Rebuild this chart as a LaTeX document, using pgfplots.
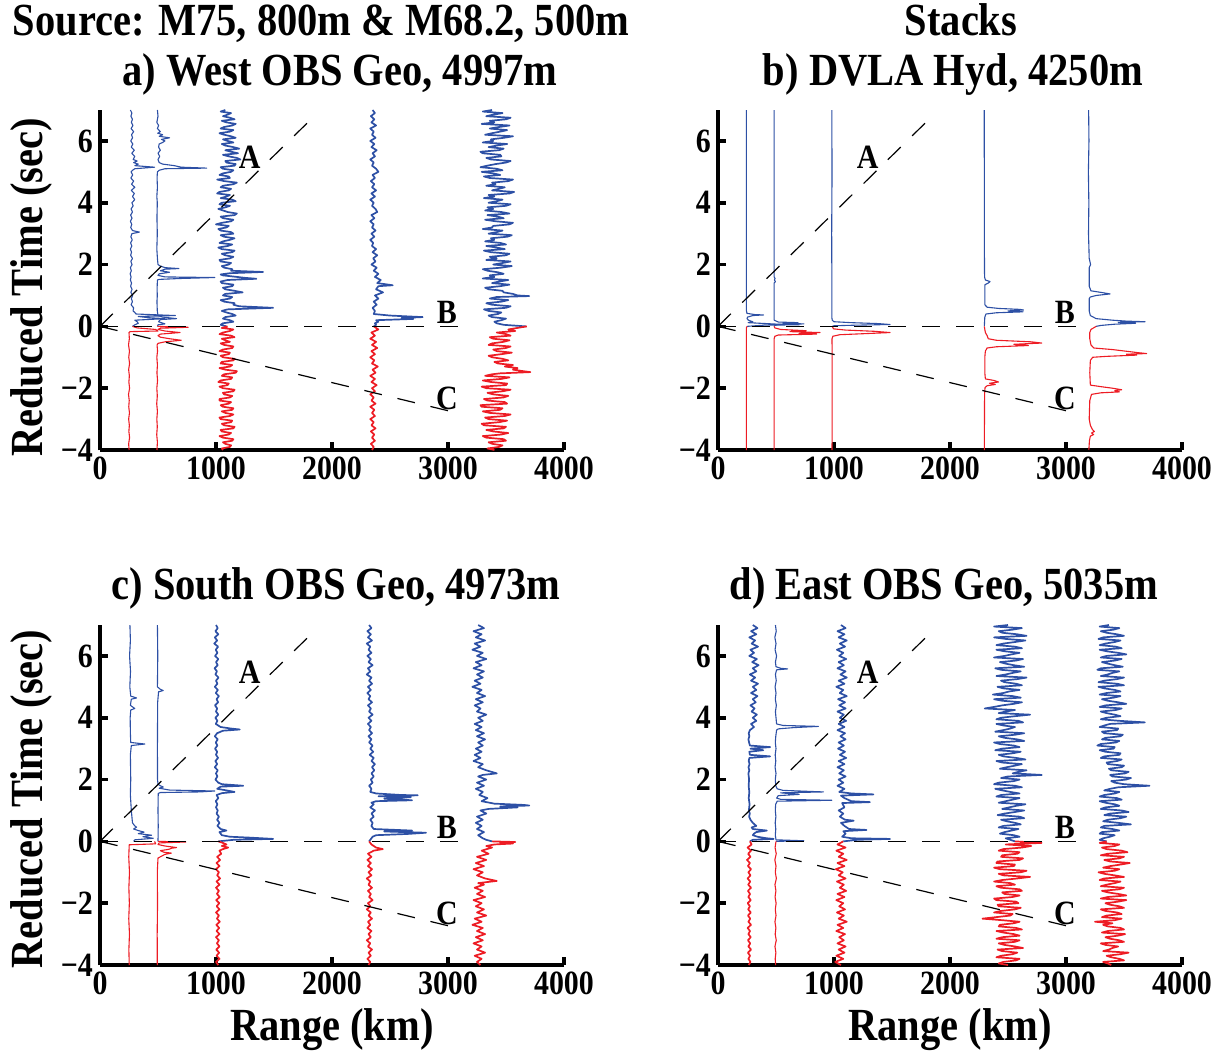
\documentclass[border=0pt]{standalone}
\usepackage{fontspec}
\setmainfont{Liberation Serif}[FakeStretch=0.88]
\usepackage{pgfplots}
\pgfplotsset{compat=1.18}
\definecolor{tb}{RGB}{45,80,165}
\definecolor{tr}{RGB}{237,28,36}
\newcommand\bigf{\fontsize{23}{25}\selectfont\bfseries}
\newcommand\tickf{\fontsize{17}{18}\selectfont\bfseries}
\newcommand\abcf{\fontsize{17}{18}\selectfont\bfseries}
\pgfplotsset{
  panel/.style={scale only axis, width=232pt, height=170pt,
    xmin=0, xmax=4000, ymin=-4, ymax=7,
    axis lines=left, axis line style={-, line width=2.3pt, black},
    xtick={0,1000,2000,3000,4000}, xticklabels={0,1000,2000,3000,4000},
    ytick={-4,-2,0,2,4,6}, yticklabels={−4,−2,0,2,4,6},
    tick align=inside, major tick length=4.2pt, tick style={line width=1.8pt, black},
    ticklabel style={font=\tickf},
    clip=false, anchor=south west},
  B/.style={color=tb, line width=0.55pt, line join=round},
  R/.style={color=tr, line width=0.55pt, line join=round},
  BN/.style={color=tb, line width=0.85pt, line join=round},
  RN/.style={color=tr, line width=0.85pt, line join=round},
  D/.style={black, line width=0.6pt, dash pattern=on 9pt off 8pt},
}
\newcommand\guides{%
  \addplot[D] coordinates {(0,0) (1860,6.85)};
  \addplot[D] coordinates {(0,0) (3180,0)};
  \addplot[D] coordinates {(0,0) (3100,-2.82)};
  \node[font=\abcf] at (axis cs:1291,5.46) {A};
  \node[font=\abcf] at (axis cs:2990,0.45) {B};
  \node[font=\abcf] at (axis cs:2990,-2.34) {C};
}
\begin{document}
\begin{tikzpicture}
\useasboundingbox (0,0) rectangle (612.5pt,-526.5pt);
% ---------------- a) ----------------
\begin{axis}[panel, at={(50pt,-225pt)}]
\addplot[B] coordinates {(262,7)(275,6.9)(266,6.8)(280,6.7)(270,6.6)(284,6.5)(268,6.4)(290,6.3)(272,6.2)(281,6.1)(265,6)(283,5.9)(270,5.8)(296,5.7)(274,5.6)(300,5.5)(286,5.4)(320,5.35)(290,5.3)(330,5.25)(300,5.2)(470,5.15)(300,5.1)(280,5.05)(268,5)(282,4.9)(266,4.8)(290,4.7)(272,4.6)(300,4.5)(270,4.4)(296,4.3)(280,4.2)(300,4.1)(275,4)(286,3.9)(268,3.8)(280,3.7)(264,3.6)(276,3.5)(262,3.4)(274,3.3)(265,3.2)(280,3.1)(340,3.05)(275,3)(266,2.9)(278,2.8)(264,2.7)(274,2.6)(262,2.5)(272,2.4)(264,2.3)(280,2.2)(266,2.1)(276,2)(262,1.9)(270,1.8)(260,1.7)(268,1.6)(262,1.5)(272,1.4)(264,1.3)(276,1.2)(266,1.1)(282,1)(270,0.9)(280,0.8)(268,0.7)(290,0.6)(285,0.5)(300,0.45)(310,0.4)(650,0.35)(330,0.32)(420,0.28)(560,0.25)(300,0.2)(320,0.15)(330,0.1)(300,0.05)(280,0)};
\addplot[R] coordinates {(280,0)(320,-0.05)(480,-0.1)(500,-0.15)(260,-0.17)(250,-0.2)(253,-0.4)(246,-0.6)(254,-0.8)(248,-1)(255,-1.2)(247,-1.4)(253,-1.6)(249,-1.8)(255,-2)(246,-2.2)(252,-2.4)(248,-2.6)(254,-2.8)(247,-3)(253,-3.2)(249,-3.4)(255,-3.6)(247,-3.8)(251,-4)};
\addplot[B] coordinates {(495,7)(500,6.8)(490,6.6)(505,6.5)(495,6.4)(520,6.3)(498,6.25)(540,6.2)(510,6.15)(600,6.1)(530,6.05)(560,6)(540,5.95)(510,5.9)(505,5.8)(520,5.7)(500,5.6)(515,5.5)(500,5.4)(510,5.3)(540,5.25)(640,5.2)(700,5.15)(920,5.12)(560,5.1)(510,5.05)(495,5)(492,4.8)(495,4.5)(490,4.2)(494,4)(491,3.5)(494,3)(490,2.5)(495,2.2)(500,2)(520,1.95)(560,1.9)(680,1.87)(560,1.85)(520,1.8)(600,1.75)(510,1.7)(500,1.65)(560,1.6)(990,1.58)(700,1.55)(510,1.52)(495,1.5)(492,1.2)(494,1)(491,0.8)(494,0.5)(500,0.35)(540,0.3)(660,0.25)(520,0.22)(505,0.15)(560,0.08)(500,0.05)(495,0)};
\addplot[R] coordinates {(495,0)(760,-0.03)(520,-0.06)(500,-0.1)(560,-0.15)(690,-0.2)(520,-0.25)(500,-0.3)(520,-0.35)(600,-0.4)(700,-0.45)(560,-0.5)(500,-0.55)(492,-0.6)(496,-0.8)(490,-1)(495,-1.25)(491,-1.5)(496,-1.75)(490,-2)(494,-2.25)(489,-2.5)(495,-2.75)(490,-3)(494,-3.25)(489,-3.5)(495,-3.75)(491,-4)};
\addplot[BN] coordinates {(1080,7)(1040,6.95)(1130,6.9)(1100,6.85)(1060,6.8)(1120,6.75)(1160,6.7)(1050,6.65)(1090,6.6)(1170,6.55)(1140,6.5)(1070,6.45)(1040,6.4)(1150,6.35)(1120,6.3)(1030,6.25)(1070,6.2)(1130,6.15)(1170,6.1)(1060,6.05)(1100,6)(1150,5.95)(1050,5.9)(1080,5.85)(1150,5.8)(1200,5.75)(1080,5.7)(1130,5.65)(1190,5.6)(1060,5.55)(1110,5.5)(1180,5.45)(1210,5.4)(1080,5.35)(1090,5.3)(1170,5.25)(1160,5.2)(1040,5.15)(1060,5.1)(1150,5.05)(1130,5)(1060,4.95)(1030,4.9)(1110,4.85)(1120,4.8)(1010,4.75)(1070,4.7)(1180,4.65)(1150,4.6)(1060,4.55)(1040,4.5)(1130,4.45)(1110,4.4)(1030,4.35)(1010,4.3)(1120,4.25)(1090,4.2)(1040,4.15)(1140,4.1)(1170,4.05)(1050,4)(1030,3.95)(1120,3.9)(1080,3.85)(1020,3.8)(1060,3.75)(1100,3.7)(1180,3.65)(1160,3.6)(1040,3.55)(1060,3.5)(1150,3.45)(1130,3.4)(1050,3.35)(1000,3.3)(1110,3.25)(1090,3.2)(1020,3.15)(1040,3.1)(1130,3.05)(1150,3)(1040,2.95)(1070,2.9)(1160,2.85)(1120,2.8)(1060,2.75)(1030,2.7)(1140,2.65)(1100,2.6)(1020,2.55)(1050,2.5)(1160,2.45)(1140,2.4)(1050,2.35)(1080,2.3)(1150,2.25)(1120,2.2)(1030,2.15)(1040,2.1)(1130,2.05)(1110,2)(1050,1.95)(1070,1.9)(1140,1.85)(1130,1.8)(1406,1.76)(1120,1.72)(1040,1.68)(1060,1.65)(1180,1.6)(1250,1.57)(1348,1.54)(1100,1.5)(1040,1.45)(1050,1.4)(1150,1.35)(1140,1.3)(1060,1.25)(1080,1.2)(1160,1.15)(1230,1.1)(1080,1.05)(1060,1)(1140,0.95)(1120,0.9)(1040,0.85)(1070,0.8)(1160,0.75)(1150,0.7)(1200,0.65)(1492,0.6)(1100,0.55)(1050,0.5)(1090,0.45)(1140,0.4)(1170,0.35)(1080,0.3)(1060,0.25)(1120,0.2)(1150,0.15)(1060,0.1)(1040,0.05)(1090,0)};
\addplot[RN] coordinates {(1100,0)(1050,-0.05)(1150,-0.1)(1120,-0.15)(1060,-0.2)(1030,-0.25)(1130,-0.3)(1160,-0.35)(1050,-0.4)(1080,-0.45)(1120,-0.5)(1040,-0.55)(1070,-0.6)(1150,-0.65)(1140,-0.7)(1060,-0.75)(1030,-0.8)(1120,-0.85)(1110,-0.9)(1040,-0.95)(1060,-1)(1160,-1.05)(1150,-1.1)(1050,-1.15)(1040,-1.2)(1140,-1.25)(1120,-1.3)(1030,-1.35)(1080,-1.4)(1180,-1.45)(1170,-1.5)(1070,-1.55)(1050,-1.6)(1140,-1.65)(1130,-1.7)(1040,-1.75)(1020,-1.8)(1110,-1.85)(1100,-1.9)(1030,-1.95)(1060,-2)(1160,-2.05)(1150,-2.1)(1060,-2.15)(1070,-2.2)(1140,-2.25)(1120,-2.3)(1030,-2.35)(1030,-2.4)(1130,-2.45)(1110,-2.5)(1040,-2.55)(1060,-2.6)(1150,-2.65)(1140,-2.7)(1050,-2.75)(1080,-2.8)(1150,-2.85)(1120,-2.9)(1030,-2.95)(1040,-3)(1140,-3.05)(1130,-3.1)(1050,-3.15)(1070,-3.2)(1160,-3.25)(1150,-3.3)(1040,-3.35)(1050,-3.4)(1130,-3.45)(1110,-3.5)(1030,-3.55)(1060,-3.6)(1150,-3.65)(1140,-3.7)(1060,-3.75)(1080,-3.8)(1130,-3.85)(1120,-3.9)(1050,-3.95)(1060,-4)};
\addplot[BN] coordinates {(2350,7)(2370,6.9)(2335,6.8)(2365,6.7)(2340,6.6)(2380,6.5)(2330,6.4)(2360,6.3)(2345,6.2)(2375,6.1)(2330,6)(2365,5.9)(2340,5.8)(2385,5.7)(2350,5.6)(2370,5.5)(2330,5.4)(2360,5.3)(2345,5.2)(2380,5.1)(2400,5)(2350,4.9)(2370,4.8)(2335,4.7)(2365,4.6)(2345,4.5)(2380,4.4)(2340,4.3)(2370,4.2)(2330,4.1)(2360,4)(2345,3.9)(2375,3.8)(2390,3.7)(2340,3.6)(2365,3.5)(2330,3.4)(2360,3.3)(2345,3.2)(2375,3.1)(2340,3)(2365,2.9)(2330,2.8)(2355,2.7)(2345,2.6)(2380,2.5)(2350,2.4)(2390,2.3)(2355,2.2)(2375,2.1)(2340,2)(2385,1.9)(2360,1.8)(2400,1.7)(2370,1.6)(2420,1.5)(2390,1.4)(2524,1.33)(2400,1.3)(2380,1.2)(2440,1.1)(2370,1)(2400,0.9)(2360,0.8)(2385,0.7)(2350,0.6)(2370,0.5)(2360,0.4)(2500,0.35)(2782,0.3)(2600,0.27)(2700,0.24)(2380,0.2)(2400,0.15)(2370,0.1)(2380,0.05)(2360,0)};
\addplot[RN] coordinates {(2360,0)(2400,-0.1)(2340,-0.2)(2370,-0.3)(2330,-0.4)(2380,-0.5)(2345,-0.6)(2390,-0.7)(2340,-0.8)(2370,-0.9)(2330,-1)(2365,-1.1)(2345,-1.2)(2395,-1.3)(2350,-1.4)(2375,-1.5)(2330,-1.6)(2370,-1.7)(2340,-1.8)(2385,-1.9)(2345,-2)(2370,-2.1)(2330,-2.2)(2360,-2.3)(2340,-2.4)(2375,-2.5)(2330,-2.6)(2365,-2.7)(2345,-2.8)(2370,-2.9)(2330,-3)(2360,-3.1)(2340,-3.2)(2375,-3.3)(2335,-3.4)(2365,-3.5)(2345,-3.6)(2370,-3.7)(2335,-3.8)(2360,-3.9)(2345,-4)};
\addplot[BN] coordinates {(3380,7)(3300,6.95)(3470,6.9)(3390,6.85)(3330,6.8)(3540,6.75)(3500,6.7)(3360,6.65)(3400,6.6)(3290,6.55)(3530,6.5)(3440,6.45)(3360,6.4)(3510,6.35)(3450,6.3)(3380,6.25)(3320,6.2)(3560,6.15)(3480,6.1)(3370,6.05)(3390,6)(3300,5.95)(3510,5.9)(3420,5.85)(3350,5.8)(3480,5.75)(3440,5.7)(3280,5.65)(3300,5.6)(3450,5.55)(3460,5.5)(3330,5.45)(3370,5.4)(3540,5.35)(3500,5.3)(3410,5.25)(3340,5.2)(3280,5.15)(3420,5.1)(3470,5.05)(3290,5)(3390,4.95)(3450,4.9)(3310,4.85)(3360,4.8)(3560,4.75)(3520,4.7)(3380,4.65)(3410,4.6)(3330,4.55)(3490,4.5)(3440,4.45)(3380,4.4)(3570,4.35)(3530,4.3)(3350,4.25)(3400,4.2)(3310,4.15)(3470,4.1)(3420,4.05)(3350,4)(3540,3.95)(3500,3.9)(3340,3.85)(3390,3.8)(3320,3.75)(3460,3.7)(3530,3.65)(3340,3.6)(3430,3.55)(3480,3.5)(3320,3.45)(3410,3.4)(3560,3.35)(3530,3.3)(3390,3.25)(3380,3.2)(3300,3.15)(3470,3.1)(3420,3.05)(3350,3)(3550,2.95)(3510,2.9)(3370,2.85)(3400,2.8)(3320,2.75)(3450,2.7)(3500,2.65)(3330,2.6)(3420,2.55)(3490,2.5)(3310,2.45)(3370,2.4)(3530,2.35)(3500,2.3)(3360,2.25)(3420,2.2)(3330,2.15)(3540,2.1)(3470,2.05)(3390,2)(3550,1.95)(3460,1.9)(3300,1.85)(3340,1.8)(3430,1.75)(3480,1.7)(3360,1.65)(3400,1.6)(3300,1.55)(3520,1.5)(3440,1.45)(3380,1.4)(3530,1.35)(3450,1.3)(3320,1.25)(3350,1.2)(3470,1.15)(3480,1.1)(3560,1.05)(3600,1)(3700,0.98)(3420,0.95)(3360,0.9)(3520,0.85)(3460,0.8)(3330,0.75)(3380,0.7)(3540,0.65)(3500,0.6)(3310,0.55)(3350,0.5)(3460,0.45)(3430,0.4)(3350,0.35)(3380,0.3)(3500,0.25)(3460,0.2)(3400,0.15)(3420,0.1)(3480,0.05)(3670,0)};
\addplot[RN] coordinates {(3680,0)(3600,-0.05)(3520,-0.1)(3580,-0.15)(3420,-0.2)(3500,-0.25)(3540,-0.3)(3360,-0.35)(3390,-0.4)(3530,-0.45)(3480,-0.5)(3380,-0.55)(3350,-0.6)(3540,-0.65)(3500,-0.7)(3390,-0.75)(3420,-0.8)(3550,-0.85)(3460,-0.9)(3350,-0.95)(3380,-1)(3470,-1.05)(3520,-1.1)(3400,-1.15)(3430,-1.2)(3560,-1.25)(3490,-1.3)(3600,-1.35)(3560,-1.4)(3650,-1.45)(3710,-1.48)(3450,-1.52)(3380,-1.55)(3320,-1.6)(3530,-1.65)(3460,-1.7)(3300,-1.75)(3370,-1.8)(3510,-1.85)(3500,-1.9)(3290,-1.95)(3330,-2)(3540,-2.05)(3470,-2.1)(3340,-2.15)(3390,-2.2)(3520,-2.25)(3480,-2.3)(3310,-2.35)(3340,-2.4)(3490,-2.45)(3510,-2.5)(3280,-2.55)(3290,-2.6)(3470,-2.65)(3450,-2.7)(3300,-2.75)(3360,-2.8)(3540,-2.85)(3490,-2.9)(3320,-2.95)(3350,-3)(3510,-3.05)(3440,-3.1)(3290,-3.15)(3310,-3.2)(3500,-3.25)(3480,-3.3)(3330,-3.35)(3390,-3.4)(3520,-3.45)(3460,-3.5)(3300,-3.55)(3330,-3.6)(3480,-3.65)(3500,-3.7)(3350,-3.75)(3380,-3.8)(3470,-3.85)(3440,-3.9)(3340,-3.95)(3400,-4)};
\guides
\end{axis}
% ---------------- b) ----------------
\begin{axis}[panel, at={(359pt,-225pt)}]
\addplot[B] coordinates {(245,7)(245,0.5)(250,0.42)(320,0.38)(393,0.37)(300,0.35)(255,0.3)(250,0.25)(262,0.2)(300,0.15)(260,0.12)(520,0.07)(700,0.05)(400,0.04)(250,0)};
\addplot[R] coordinates {(250,0)(245,-0.05)(245,-4)};
\addplot[B] coordinates {(484,7)(484,1.6)(492,1.55)(486,1.5)(495,1.45)(484,1.4)(484,0.2)(520,0.14)(690,0.12)(560,0.1)(740,0.08)(520,0.06)(490,0.03)(484,0)};
\addplot[R] coordinates {(484,0)(490,-0.05)(540,-0.1)(760,-0.14)(620,-0.17)(880,-0.2)(700,-0.23)(850,-0.25)(520,-0.28)(490,-0.32)(484,-0.4)(484,-4)};
\addplot[B] coordinates {(981,7)(983,5)(980,3)(982,1)(981,0.3)(985,0.2)(1000,0.15)(1150,0.12)(1380,0.09)(1483,0.06)(1200,0.04)(1000,0.02)(985,0)};
\addplot[R] coordinates {(985,0)(995,-0.08)(1100,-0.12)(1350,-0.16)(1483,-0.2)(1300,-0.23)(1050,-0.27)(990,-0.32)(983,-0.4)(984,-2)(983,-4)};
\addplot[B] coordinates {(2295,7)(2297,2)(2298,1.6)(2305,1.5)(2345,1.45)(2330,1.4)(2302,1.35)(2300,1.3)(2300,0.7)(2320,0.62)(2420,0.58)(2600,0.55)(2633,0.53)(2500,0.5)(2630,0.47)(2400,0.44)(2310,0.4)(2300,0.3)(2296,0)};
\addplot[R] coordinates {(2296,0)(2300,-0.1)(2305,-0.2)(2320,-0.3)(2330,-0.4)(2400,-0.45)(2700,-0.5)(2791,-0.54)(2550,-0.58)(2676,-0.62)(2400,-0.66)(2320,-0.7)(2305,-0.8)(2300,-1)(2300,-1.5)(2305,-1.7)(2380,-1.75)(2418,-1.8)(2340,-1.84)(2390,-1.88)(2320,-1.92)(2302,-1.98)(2298,-2.2)(2296,-4)};
\addplot[B] coordinates {(3195,7)(3198,6)(3193,5)(3197,4)(3194,3)(3200,2.2)(3212,2)(3200,1.9)(3200,1.3)(3215,1.15)(3300,1.1)(3380,1.05)(3260,1)(3210,0.95)(3200,0.9)(3200,0.5)(3210,0.35)(3260,0.25)(3400,0.2)(3520,0.17)(3681,0.15)(3450,0.13)(3600,0.1)(3420,0.07)(3300,0.03)(3260,0)};
\addplot[R] coordinates {(3260,0)(3215,-0.1)(3205,-0.2)(3205,-0.4)(3215,-0.6)(3240,-0.7)(3400,-0.75)(3509,-0.8)(3620,-0.85)(3695,-0.88)(3520,-0.9)(3610,-0.93)(3350,-0.97)(3230,-1)(3210,-1.1)(3205,-1.5)(3210,-1.9)(3300,-1.95)(3400,-2)(3480,-2.05)(3420,-2.08)(3460,-2.12)(3300,-2.15)(3220,-2.2)(3205,-2.4)(3200,-3)(3210,-3.2)(3230,-3.35)(3245,-3.4)(3220,-3.45)(3238,-3.5)(3210,-3.55)(3202,-3.7)(3197,-4)};
\guides
\end{axis}
% ---------------- c) ----------------
\begin{axis}[panel, at={(50pt,-482.5pt)}]
\addplot[B] coordinates {(258,7)(262,6.5)(255,6)(263,5.5)(257,5)(265,4.7)(315,4.64)(270,4.6)(262,4.4)(300,4.3)(265,4.25)(260,4)(262,3.5)(265,3.2)(387,3.15)(270,3.1)(262,2.8)(265,2)(262,1.5)(270,1)(280,0.6)(300,0.5)(315,0.46)(290,0.4)(330,0.35)(380,0.3)(330,0.25)(445,0.2)(370,0.15)(459,0.1)(300,0.05)(290,0)};
\addplot[R] coordinates {(470,0)(480,-0.08)(252,-0.11)(248,-0.5)(254,-1)(249,-1.5)(253,-2)(248,-2.5)(254,-3)(249,-3.5)(252,-4)};
\addplot[B] coordinates {(495,7)(498,6)(495,5)(520,4.92)(545,4.88)(505,4.84)(497,4.5)(495,3)(496,2)(500,1.85)(520,1.8)(545,1.76)(510,1.72)(600,1.66)(990,1.63)(860,1.6)(520,1.58)(502,1.55)(500,1)(502,0.5)(500,0)};
\addplot[R] coordinates {(500,0)(740,-0.02)(510,-0.05)(500,-0.1)(560,-0.15)(660,-0.2)(620,-0.22)(590,-0.26)(520,-0.3)(550,-0.35)(615,-0.38)(560,-0.42)(520,-0.5)(500,-0.54)(494,-1)(496,-2)(493,-3)(494,-4)};
\addplot[BN] coordinates {(1000,7)(1015,6.9)(995,6.8)(1020,6.7)(990,6.6)(1010,6.5)(985,6.4)(1018,6.3)(998,6.2)(1012,6.1)(992,6)(1020,5.9)(1000,5.8)(1015,5.7)(988,5.6)(1008,5.5)(995,5.4)(1022,5.3)(1000,5.2)(1012,5.1)(990,5)(1016,4.9)(998,4.8)(1025,4.7)(1005,4.6)(1018,4.5)(992,4.4)(1010,4.3)(1000,4.2)(1020,4.1)(995,4)(1012,3.9)(998,3.8)(1040,3.7)(1130,3.65)(1205,3.62)(1060,3.58)(1010,3.5)(990,3.4)(1015,3.3)(998,3.2)(1012,3.1)(992,3)(1010,2.9)(1000,2.8)(1018,2.7)(995,2.6)(1010,2.5)(990,2.4)(1015,2.3)(1000,2.2)(1012,2.1)(995,2)(1020,1.9)(1050,1.85)(1234,1.8)(1040,1.77)(1010,1.7)(1090,1.65)(1160,1.6)(1050,1.56)(1005,1.5)(1020,1.4)(998,1.3)(1012,1.2)(1000,1.1)(1015,1)(1005,0.9)(1025,0.8)(1010,0.7)(1030,0.6)(1012,0.5)(1040,0.4)(1090,0.35)(1030,0.3)(1050,0.2)(1120,0.15)(1300,0.12)(1492,0.08)(1150,0.05)(1020,0)};
\addplot[RN] coordinates {(1020,0)(1060,-0.05)(1090,-0.1)(1050,-0.15)(1105,-0.2)(1060,-0.25)(1030,-0.3)(1045,-0.4)(1010,-0.5)(1035,-0.6)(1005,-0.7)(1030,-0.8)(1000,-0.9)(1025,-1)(1010,-1.1)(1035,-1.2)(1005,-1.3)(1030,-1.4)(1000,-1.5)(1025,-1.6)(1008,-1.7)(1032,-1.8)(1002,-1.9)(1028,-2)(1006,-2.1)(1030,-2.2)(1000,-2.3)(1025,-2.4)(1008,-2.5)(1033,-2.6)(1003,-2.7)(1027,-2.8)(1005,-2.9)(1030,-3)(1000,-3.1)(1025,-3.2)(1008,-3.3)(1030,-3.4)(1002,-3.5)(1027,-3.6)(1005,-3.7)(1030,-3.8)(1000,-3.9)(1020,-4)};
\addplot[BN] coordinates {(2320,7)(2340,6.9)(2305,6.8)(2335,6.7)(2310,6.6)(2345,6.5)(2300,6.4)(2330,6.3)(2315,6.2)(2340,6.1)(2305,6)(2335,5.9)(2315,5.8)(2350,5.7)(2310,5.6)(2330,5.5)(2300,5.4)(2340,5.3)(2320,5.2)(2345,5.1)(2310,5)(2335,4.9)(2305,4.8)(2330,4.7)(2315,4.6)(2345,4.5)(2310,4.4)(2335,4.3)(2320,4.2)(2350,4.1)(2315,4)(2340,3.9)(2310,3.8)(2335,3.7)(2320,3.6)(2345,3.5)(2315,3.4)(2340,3.3)(2320,3.2)(2350,3.1)(2330,3)(2355,2.9)(2325,2.8)(2360,2.7)(2340,2.6)(2370,2.5)(2345,2.4)(2365,2.3)(2340,2.2)(2360,2.1)(2335,2)(2350,1.9)(2320,1.8)(2340,1.7)(2330,1.6)(2380,1.55)(2600,1.5)(2739,1.49)(2400,1.46)(2680,1.43)(2450,1.38)(2690,1.33)(2380,1.3)(2340,1.25)(2360,1.2)(2330,1.1)(2370,1)(2340,0.9)(2360,0.8)(2330,0.7)(2350,0.6)(2340,0.5)(2360,0.4)(2690,0.35)(2450,0.32)(2811,0.28)(2650,0.24)(2380,0.2)(2350,0.15)(2340,0.1)(2330,0.05)(2320,0)};
\addplot[RN] coordinates {(2320,0)(2340,-0.1)(2380,-0.2)(2438,-0.25)(2360,-0.3)(2310,-0.4)(2340,-0.5)(2305,-0.6)(2335,-0.7)(2310,-0.8)(2345,-0.9)(2315,-1)(2340,-1.1)(2300,-1.2)(2330,-1.3)(2315,-1.4)(2345,-1.5)(2310,-1.6)(2335,-1.7)(2320,-1.8)(2350,-1.9)(2310,-2)(2330,-2.1)(2300,-2.2)(2335,-2.3)(2315,-2.4)(2345,-2.5)(2310,-2.6)(2330,-2.7)(2305,-2.8)(2340,-2.9)(2315,-3)(2335,-3.1)(2300,-3.2)(2330,-3.3)(2310,-3.4)(2345,-3.5)(2315,-3.6)(2335,-3.7)(2305,-3.8)(2330,-3.9)(2315,-4)};
\addplot[BN] coordinates {(3260,7)(3310,6.9)(3220,6.8)(3290,6.7)(3240,6.6)(3320,6.5)(3230,6.4)(3280,6.3)(3210,6.2)(3300,6.1)(3250,6)(3330,5.9)(3240,5.8)(3290,5.7)(3220,5.6)(3310,5.5)(3250,5.4)(3300,5.3)(3230,5.2)(3280,5.1)(3210,5)(3290,4.9)(3250,4.8)(3320,4.7)(3240,4.6)(3300,4.5)(3230,4.4)(3280,4.3)(3250,4.2)(3330,4.1)(3260,4)(3300,3.9)(3230,3.8)(3290,3.7)(3240,3.6)(3310,3.5)(3250,3.4)(3320,3.3)(3260,3.2)(3300,3.1)(3240,3)(3290,2.9)(3230,2.8)(3280,2.7)(3220,2.6)(3300,2.5)(3260,2.4)(3330,2.3)(3420,2.2)(3300,2.15)(3260,2.1)(3330,2)(3250,1.9)(3310,1.8)(3240,1.7)(3300,1.6)(3270,1.5)(3340,1.4)(3290,1.3)(3400,1.22)(3650,1.18)(3700,1.16)(3450,1.13)(3600,1.1)(3350,1.05)(3280,1)(3330,0.9)(3250,0.8)(3300,0.7)(3240,0.6)(3290,0.5)(3250,0.4)(3310,0.3)(3260,0.2)(3300,0.1)(3330,0.05)(3380,0)};
\addplot[RN] coordinates {(3380,0)(3580,-0.02)(3450,-0.04)(3560,-0.07)(3400,-0.1)(3330,-0.15)(3380,-0.2)(3290,-0.3)(3350,-0.4)(3250,-0.5)(3330,-0.6)(3240,-0.7)(3310,-0.8)(3220,-0.9)(3300,-1)(3250,-1.1)(3320,-1.2)(3420,-1.28)(3260,-1.35)(3310,-1.4)(3230,-1.5)(3300,-1.6)(3250,-1.7)(3320,-1.8)(3220,-1.9)(3290,-2)(3240,-2.1)(3310,-2.2)(3250,-2.3)(3330,-2.4)(3230,-2.5)(3290,-2.6)(3210,-2.7)(3300,-2.8)(3250,-2.9)(3320,-3)(3240,-3.1)(3300,-3.2)(3220,-3.3)(3290,-3.4)(3250,-3.5)(3320,-3.6)(3230,-3.7)(3290,-3.8)(3250,-3.9)(3280,-4)};
\guides
\end{axis}
% ---------------- d) ----------------
\begin{axis}[panel, at={(359pt,-482.5pt)}]
\addplot[BN] coordinates {(300,7)(340,6.9)(285,6.8)(330,6.7)(270,6.6)(320,6.5)(290,6.4)(345,6.3)(280,6.2)(310,6.1)(270,6)(335,5.9)(295,5.8)(350,5.7)(300,5.6)(330,5.5)(275,5.4)(320,5.3)(285,5.2)(345,5.1)(300,5)(330,4.9)(285,4.8)(340,4.7)(300,4.6)(325,4.5)(280,4.4)(315,4.3)(290,4.2)(335,4.1)(300,4)(330,3.9)(285,3.8)(310,3.7)(275,3.6)(265,3.5)(270,3.4)(262,3.3)(268,3.2)(275,3.1)(450,3.05)(280,3)(390,2.95)(270,2.9)(275,2.8)(450,2.75)(270,2.7)(265,2.6)(272,2.5)(263,2.4)(270,2.3)(262,2.2)(268,2)(264,1.8)(270,1.6)(265,1.4)(272,1.2)(266,1)(274,0.9)(268,0.8)(280,0.7)(300,0.6)(330,0.5)(290,0.45)(300,0.4)(421,0.35)(330,0.3)(310,0.25)(300,0.2)(340,0.15)(420,0.1)(480,0.08)(300,0.05)(275,0)};
\addplot[RN] coordinates {(275,0)(290,-0.1)(255,-0.2)(285,-0.3)(260,-0.4)(280,-0.5)(250,-0.6)(275,-0.7)(258,-0.8)(285,-0.9)(262,-1)(280,-1.1)(255,-1.2)(278,-1.3)(260,-1.4)(285,-1.5)(258,-1.6)(276,-1.7)(262,-1.8)(282,-1.9)(256,-2)(275,-2.1)(260,-2.2)(283,-2.3)(258,-2.4)(278,-2.5)(262,-2.6)(285,-2.7)(255,-2.8)(276,-2.9)(262,-3)(282,-3.1)(258,-3.2)(278,-3.3)(262,-3.4)(285,-3.5)(258,-3.6)(276,-3.7)(262,-3.8)(280,-3.9)(265,-4)};
\addplot[B] coordinates {(495,7)(502,6.8)(490,6.6)(500,6.4)(492,6.2)(505,6)(495,5.8)(500,5.65)(540,5.6)(600,5.58)(505,5.55)(495,5.4)(502,5.2)(492,5)(500,4.8)(494,4.6)(503,4.4)(495,4.2)(500,4)(505,3.8)(560,3.75)(866,3.72)(650,3.68)(520,3.64)(505,3.6)(498,3.4)(494,3.2)(500,3)(493,2.8)(498,2.6)(492,2.4)(500,2.2)(494,2)(498,1.8)(510,1.7)(560,1.65)(909,1.6)(540,1.57)(700,1.52)(520,1.48)(505,1.4)(540,1.36)(981,1.33)(510,1.3)(497,1.2)(494,1)(499,0.8)(493,0.6)(498,0.4)(494,0.2)(500,0.05)(740,0.02)(500,0)};
\addplot[R] coordinates {(500,0)(492,-0.2)(502,-0.4)(490,-0.6)(500,-0.8)(494,-1)(503,-1.2)(491,-1.4)(499,-1.6)(492,-1.8)(501,-2)(494,-2.2)(500,-2.4)(491,-2.6)(499,-2.8)(493,-3)(502,-3.2)(491,-3.4)(499,-3.6)(493,-3.8)(497,-4)};
\addplot[BN] coordinates {(1060,7)(1100,6.9)(1030,6.8)(1090,6.7)(1040,6.6)(1110,6.5)(1050,6.4)(1095,6.3)(1025,6.2)(1080,6.1)(1045,6)(1105,5.9)(1040,5.8)(1085,5.7)(1030,5.6)(1100,5.5)(1055,5.4)(1110,5.3)(1040,5.2)(1090,5.1)(1020,5)(1080,4.9)(1050,4.8)(1110,4.7)(1035,4.6)(1095,4.5)(1045,4.4)(1100,4.3)(1030,4.2)(1085,4.1)(1050,4)(1105,3.9)(1040,3.8)(1090,3.7)(1030,3.6)(1095,3.5)(1055,3.4)(1100,3.3)(1040,3.2)(1085,3.1)(1035,3)(1095,2.9)(1050,2.8)(1105,2.7)(1040,2.6)(1090,2.5)(1030,2.4)(1085,2.3)(1045,2.2)(1100,2.1)(1040,2)(1080,1.9)(1030,1.8)(1090,1.7)(1045,1.6)(1150,1.55)(1340,1.52)(1060,1.48)(1090,1.4)(1150,1.3)(1310,1.27)(1070,1.24)(1090,1.1)(1040,1)(1080,0.9)(1050,0.8)(1095,0.7)(1170,0.67)(1060,0.6)(1090,0.5)(1130,0.4)(1280,0.37)(1080,0.33)(1100,0.25)(1070,0.15)(1150,0.1)(1483,0.08)(1200,0.05)(1080,0)};
\addplot[RN] coordinates {(1080,0)(1030,-0.1)(1100,-0.2)(1020,-0.3)(1080,-0.4)(1040,-0.5)(1110,-0.6)(1030,-0.7)(1090,-0.8)(1015,-0.9)(1075,-1)(1040,-1.1)(1100,-1.2)(1025,-1.3)(1085,-1.4)(1050,-1.5)(1105,-1.6)(1030,-1.7)(1090,-1.8)(1020,-1.9)(1080,-2)(1045,-2.1)(1095,-2.2)(1025,-2.3)(1085,-2.4)(1040,-2.5)(1110,-2.6)(1030,-2.7)(1080,-2.8)(1020,-2.9)(1095,-3)(1045,-3.1)(1085,-3.2)(1030,-3.3)(1100,-3.4)(1040,-3.5)(1090,-3.6)(1020,-3.7)(1080,-3.8)(1010,-3.9)(1060,-4)};
\addplot[BN] coordinates {(2500,7)(2380,6.95)(2620,6.9)(2540,6.85)(2420,6.8)(2450,6.75)(2580,6.7)(2660,6.65)(2380,6.6)(2480,6.55)(2650,6.5)(2560,6.45)(2460,6.4)(2400,6.35)(2560,6.3)(2620,6.25)(2400,6.2)(2470,6.15)(2600,6.1)(2530,6.05)(2470,6)(2380,5.95)(2630,5.9)(2570,5.85)(2430,5.8)(2480,5.75)(2550,5.7)(2640,5.65)(2390,5.6)(2440,5.55)(2610,5.5)(2540,5.45)(2480,5.4)(2400,5.35)(2660,5.3)(2580,5.25)(2440,5.2)(2470,5.15)(2570,5.1)(2620,5.05)(2410,5)(2460,4.95)(2600,4.9)(2510,4.85)(2460,4.8)(2370,4.75)(2540,4.7)(2610,4.65)(2380,4.6)(2450,4.55)(2620,4.5)(2550,4.45)(2450,4.4)(2380,4.35)(2300,4.3)(2560,4.25)(2480,4.2)(2420,4.15)(2690,4.1)(2560,4.05)(2440,4)(2400,3.95)(2590,3.9)(2630,3.85)(2400,3.8)(2460,3.75)(2560,3.7)(2520,3.65)(2460,3.6)(2390,3.55)(2640,3.5)(2560,3.45)(2420,3.4)(2470,3.35)(2580,3.3)(2640,3.25)(2380,3.2)(2430,3.15)(2550,3.1)(2600,3.05)(2450,3)(2390,2.95)(2610,2.9)(2540,2.85)(2420,2.8)(2460,2.75)(2570,2.7)(2650,2.65)(2400,2.6)(2450,2.55)(2620,2.5)(2560,2.45)(2490,2.4)(2430,2.35)(2660,2.3)(2590,2.25)(2540,2.2)(2791,2.15)(2500,2.1)(2440,2.05)(2600,2)(2550,1.95)(2420,1.9)(2380,1.85)(2560,1.8)(2620,1.75)(2390,1.7)(2450,1.65)(2520,1.6)(2600,1.55)(2440,1.5)(2400,1.45)(2600,1.4)(2540,1.35)(2480,1.3)(2420,1.25)(2650,1.2)(2570,1.15)(2510,1.1)(2450,1.05)(2640,1)(2560,0.95)(2470,0.9)(2410,0.85)(2600,0.8)(2640,0.75)(2440,0.7)(2490,0.65)(2560,0.6)(2610,0.55)(2460,0.5)(2420,0.45)(2590,0.4)(2530,0.35)(2470,0.3)(2430,0.25)(2550,0.2)(2600,0.15)(2480,0.1)(2520,0.05)(2560,0)};
\addplot[RN] coordinates {(2560,0)(2790,-0.05)(2480,-0.1)(2700,-0.15)(2620,-0.2)(2460,-0.25)(2420,-0.3)(2600,-0.35)(2580,-0.4)(2450,-0.45)(2440,-0.5)(2630,-0.55)(2600,-0.6)(2410,-0.65)(2400,-0.7)(2560,-0.75)(2550,-0.8)(2380,-0.85)(2430,-0.9)(2660,-0.95)(2610,-1)(2420,-1.05)(2460,-1.1)(2690,-1.15)(2580,-1.2)(2450,-1.25)(2380,-1.3)(2520,-1.35)(2560,-1.4)(2400,-1.45)(2440,-1.5)(2600,-1.55)(2620,-1.6)(2450,-1.65)(2470,-1.7)(2600,-1.75)(2540,-1.8)(2380,-1.85)(2400,-1.9)(2570,-1.95)(2590,-2)(2410,-2.05)(2420,-2.1)(2610,-2.15)(2560,-2.2)(2440,-2.25)(2380,-2.3)(2540,-2.35)(2520,-2.4)(2400,-2.45)(2280,-2.5)(2450,-2.55)(2600,-2.6)(2550,-2.65)(2430,-2.7)(2420,-2.75)(2570,-2.8)(2620,-2.85)(2400,-2.9)(2460,-2.95)(2550,-3)(2600,-3.05)(2450,-3.1)(2400,-3.15)(2600,-3.2)(2560,-3.25)(2420,-3.3)(2470,-3.35)(2560,-3.4)(2630,-3.45)(2410,-3.5)(2450,-3.55)(2580,-3.6)(2540,-3.65)(2440,-3.7)(2400,-3.75)(2600,-3.8)(2570,-3.85)(2460,-3.9)(2420,-3.95)(2500,-4)};
\addplot[BN] coordinates {(3370,7)(3290,6.95)(3460,6.9)(3410,6.85)(3300,6.8)(3350,6.75)(3440,6.7)(3500,6.65)(3320,6.6)(3280,6.55)(3470,6.5)(3420,6.45)(3340,6.4)(3290,6.35)(3430,6.3)(3480,6.25)(3290,6.2)(3350,6.15)(3450,6.1)(3520,6.05)(3350,6)(3300,5.95)(3480,5.9)(3420,5.85)(3310,5.8)(3360,5.75)(3420,5.7)(3490,5.65)(3300,5.6)(3270,5.55)(3460,5.5)(3400,5.45)(3360,5.4)(3300,5.35)(3500,5.3)(3440,5.25)(3330,5.2)(3280,5.15)(3440,5.1)(3500,5.05)(3280,5)(3330,4.95)(3420,4.9)(3470,4.85)(3350,4.8)(3290,4.75)(3470,4.7)(3410,4.65)(3310,4.6)(3360,4.55)(3450,4.5)(3520,4.45)(3340,4.4)(3290,4.35)(3480,4.3)(3430,4.25)(3300,4.2)(3350,4.15)(3420,4.1)(3470,4.05)(3350,4)(3300,3.95)(3460,3.9)(3680,3.85)(3380,3.8)(3330,3.75)(3290,3.7)(3450,3.65)(3440,3.6)(3310,3.55)(3330,3.5)(3490,3.45)(3470,3.4)(3340,3.35)(3310,3.3)(3460,3.25)(3430,3.2)(3300,3.15)(3270,3.1)(3420,3.05)(3410,3)(3290,2.95)(3340,2.9)(3470,2.85)(3460,2.8)(3330,2.75)(3300,2.7)(3480,2.65)(3440,2.6)(3350,2.55)(3360,2.5)(3500,2.45)(3480,2.4)(3370,2.35)(3390,2.3)(3540,2.25)(3510,2.2)(3380,2.15)(3400,2.1)(3560,2.05)(3520,2)(3390,1.95)(3420,1.9)(3500,1.85)(3720,1.8)(3450,1.75)(3380,1.7)(3330,1.65)(3460,1.6)(3420,1.55)(3330,1.5)(3290,1.45)(3440,1.4)(3480,1.35)(3290,1.3)(3340,1.25)(3420,1.2)(3460,1.15)(3340,1.1)(3300,1.05)(3480,1)(3540,0.95)(3380,0.9)(3330,0.85)(3520,0.8)(3470,0.75)(3360,0.7)(3320,0.65)(3450,0.6)(3560,0.55)(3330,0.5)(3300,0.45)(3400,0.4)(3460,0.35)(3310,0.3)(3290,0.25)(3420,0.2)(3380,0.15)(3320,0.1)(3290,0.05)(3350,0)};
\addplot[RN] coordinates {(3350,0)(3290,-0.05)(3460,-0.1)(3420,-0.15)(3310,-0.2)(3350,-0.25)(3480,-0.3)(3530,-0.35)(3360,-0.4)(3300,-0.45)(3500,-0.5)(3460,-0.55)(3330,-0.6)(3380,-0.65)(3550,-0.7)(3470,-0.75)(3380,-0.8)(3320,-0.85)(3460,-0.9)(3420,-0.95)(3280,-1)(3330,-1.05)(3420,-1.1)(3500,-1.15)(3330,-1.2)(3290,-1.25)(3470,-1.3)(3420,-1.35)(3350,-1.4)(3300,-1.45)(3500,-1.5)(3460,-1.55)(3310,-1.6)(3360,-1.65)(3450,-1.7)(3520,-1.75)(3360,-1.8)(3300,-1.85)(3520,-1.9)(3450,-1.95)(3340,-2)(3380,-2.05)(3460,-2.1)(3500,-2.15)(3300,-2.2)(3340,-2.25)(3440,-2.3)(3480,-2.35)(3350,-2.4)(3310,-2.45)(3480,-2.5)(3420,-2.55)(3250,-2.6)(3400,-2.65)(3320,-2.7)(3360,-2.75)(3470,-2.8)(3500,-2.85)(3360,-2.9)(3310,-2.95)(3510,-3)(3450,-3.05)(3340,-3.1)(3380,-3.15)(3460,-3.2)(3500,-3.25)(3300,-3.3)(3340,-3.35)(3450,-3.4)(3400,-3.45)(3370,-3.5)(3320,-3.55)(3540,-3.6)(3470,-3.65)(3350,-3.7)(3390,-3.75)(3460,-3.8)(3500,-3.85)(3320,-3.9)(3360,-3.95)(3390,-4)};
\guides
\end{axis}
% ---------------- titles and labels ----------------
\node[font=\bigf, anchor=base] at (160.5pt,-18pt) {Source: M75, 800m \& M68.2, 500m};
\node[font=\bigf, anchor=base] at (170pt,-43pt) {a) West OBS Geo, 4997m};
\node[font=\bigf, anchor=base] at (480.5pt,-18pt) {Stacks};
\node[font=\bigf, anchor=base] at (476.5pt,-43pt) {b) DVLA Hyd, 4250m};
\node[font=\bigf, anchor=base] at (168pt,-299.5pt) {c) South OBS Geo, 4973m};
\node[font=\bigf, anchor=base] at (472pt,-299.5pt) {d) East OBS Geo, 5035m};
\node[font=\bigf, anchor=base] at (166pt,-520pt) {Range (km)};
\node[font=\bigf, anchor=base] at (475pt,-520pt) {Range (km)};
\node[font=\bigf, anchor=base, rotate=90] at (21pt,-143.75pt) {Reduced Time (sec)};
\node[font=\bigf, anchor=base, rotate=90] at (21pt,-399.5pt) {Reduced Time (sec)};
\end{tikzpicture}
\end{document}
